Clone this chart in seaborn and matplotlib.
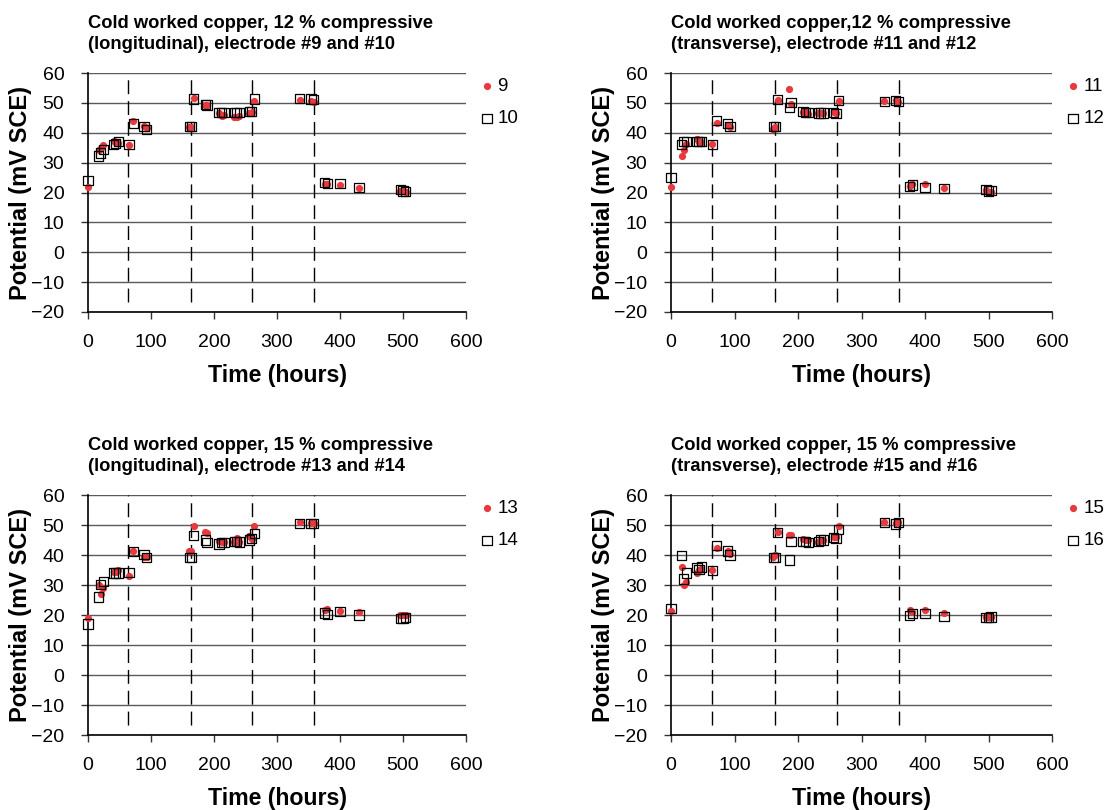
import numpy as np
import pandas as pd
import matplotlib
matplotlib.use("Agg")
import matplotlib.pyplot as plt
import seaborn as sns

# ---------------- data ----------------
time_h = [0, 17, 20, 24, 41, 44, 48, 65, 72, 89, 93, 161, 164, 168, 186, 189,
          208, 212, 216, 232, 236, 240, 256, 260, 264, 336, 354, 358, 376, 380,
          400, 430, 496, 500, 504]

e9 = [22, 34.1, 34.8, 36, 37.2, 36.5, 36.5, 36, 44.1, 42.2, 41.5, 42, 42, 51.5, 49.4, 49.3,
      46.5, 45.7, 46, 45.3, 45.3, 45.5, 46.6, 47, 50.6, 50.8, 50.5, 50.2, 23, 22.7,
      22.6, 21.4, 20.6, 20.5, 20.3]
e10 = [24.1, 32.2, 33.2, 34.3, 36, 36.3, 37.2, 36, 43.2, 42, 41.2, 42, 42, 51.3, 49.4, 49.3,
       46.8, 46.8, 46.8, 46.8, 46.8, 46.9, 47.1, 47, 51.3, 51.5, 51.3, 51, 23.4, 23.1,
       23.1, 21.6, 20.9, 20.5, 20.3]

e11 = [22, 32.1, 34.1, 36.1, 38, 37, 37, 36.1, 43.2, 42.5, 42, 41.2, 42, 51.1, 54.7, 49.6,
       47, 47, 46.3, 46.5, 46.5, 46.5, 47, 46.7, 50.5, 50.5, 50.8, 50.3, 22.2, 22.9,
       22.9, 21.4, 20.7, 20.3, 20.3]
e12 = [25.1, 36.1, 37.2, 37.2, 37.2, 37.2, 37.2, 36.1, 44.2, 43.2, 42.2, 42.1, 42.1, 51.1, 48.5, 50.2,
       47.2, 46.9, 46.7, 46.6, 46.6, 46.6, 46.9, 46.5, 50.7, 50.5, 50.8, 50.4, 22, 22.5,
       21.8, 21.3, 20.9, 20.5, 20.6]

e13 = [19.1, 30.1, 27.1, 29, 34.2, 34.2, 34.9, 32.9, 41.3, 39.5, 39.5, 41.2, 41.2, 49.6, 47.6, 47.4,
       44.6, 44.4, 44.2, 44.5, 45.8, 44.5, 46.3, 45.5, 49.7, 51, 50.6, 50.6, 21.6, 22.1,
       21.2, 20.9, 20, 20, 20]
e14 = [17, 26, 30.1, 31.1, 34, 34, 34, 34.2, 41.1, 40.2, 39.1, 39.1, 39.1, 46.5, 45, 44.2,
       43.7, 44.1, 44.1, 44.5, 44.4, 44.3, 45, 45.4, 47.2, 50.5, 50.5, 50.5, 20.7, 20.2,
       21.2, 20, 18.8, 18.8, 19.1]

e15 = [21.2, 36, 30.1, 31, 34, 35, 35.2, 34.9, 42.2, 41.3, 40.5, 39.2, 39.9, 47.7, 46.6, 46.6,
       45.5, 45, 45, 44.4, 45, 45, 46, 46, 49.6, 50.9, 50.7, 51, 21.6, 21,
       21.8, 20.7, 19.2, 19.2, 19.2]
e16 = [22.1, 39.9, 32, 34, 35.8, 35.2, 36, 34.9, 43.2, 41.3, 40, 39.1, 39.1, 47.5, 38.3, 44.4,
       44.4, 44.4, 44.2, 44.4, 45, 45, 45.8, 45.5, 48.6, 50.9, 50.3, 50.8, 19.9, 20.6,
       20.6, 19.6, 19.1, 19.1, 19.3]

titles = [
    "Cold worked copper, 12 % compressive\n(longitudinal), electrode #9 and #10",
    "Cold worked copper,12 % compressive\n(transverse), electrode #11 and #12",
    "Cold worked copper, 15 % compressive\n(longitudinal), electrode #13 and #14",
    "Cold worked copper, 15 % compressive\n(transverse), electrode #15 and #16",
]
pairs = [(e9, e10, "9", "10"), (e11, e12, "11", "12"),
         (e13, e14, "13", "14"), (e15, e16, "15", "16")]
marker_lines = [64, 164, 261, 359]
x_ticks = [0, 100, 200, 300, 400, 500, 600]
y_ticks = [-20, -10, 0, 10, 20, 30, 40, 50, 60]

# ---------------- style ----------------
sns.set_style("white")
plt.rcParams['font.family'] = ['Liberation Sans', 'DejaVu Sans']
plt.rcParams.update({"text.color": "black", "axes.labelcolor": "black",
                     "xtick.color": "black", "ytick.color": "black"})

RED = "#E8393E"
W, H = 1106, 810
fig = plt.figure(figsize=(W / 100, H / 100), dpi=100)

# axes boxes in pixels (left, top, right, bottom)
boxes = [(88, 73, 466, 312), (671, 73, 1052, 312),
         (88, 495, 466, 735), (671, 495, 1052, 735)]

for box, title, (ya, yb, la, lb) in zip(boxes, titles, pairs):
    l, t, r, b = box
    aw, ah = r - l, b - t
    ax = fig.add_axes([l / W, (H - b) / H, aw / W, ah / H])
    df = pd.DataFrame({"t": time_h, "a": ya, "b": yb})

    for y in y_ticks:
        ax.axhline(y, color="#5a5a5a", lw=1.0, zorder=0.5)
    for xv in marker_lines:
        ax.axvline(xv, ymin=0.04, ymax=1.0, color="black", lw=1.0,
                   linestyle=(0, (10, 5)), zorder=0.6)

    sns.scatterplot(data=df, x="t", y="a", ax=ax, marker="o", s=27,
                    color=RED, edgecolor=RED, linewidth=0, label=la, zorder=3)
    sns.scatterplot(data=df, x="t", y="b", ax=ax, marker="s", s=44,
                    color="black", linewidth=0.9, label=lb, zorder=4)
    coll = ax.collections[-1]
    coll.set_facecolor("none")
    coll.set_edgecolor("black")
    for c in ax.collections:
        c.set_clip_on(False)

    ax.set_xlim(0, 600)
    ax.set_ylim(-20, 60)
    ax.set_xticks(x_ticks)
    ax.set_yticks(y_ticks)
    ax.tick_params(axis="both", direction="out", length=5, width=1,
                   color="#333333", labelsize=14, left=True, bottom=True)
    ax.tick_params(axis="x", pad=11)
    ax.tick_params(axis="y", pad=12)
    for s in ["top", "right"]:
        ax.spines[s].set_visible(False)
    for s in ["left", "bottom"]:
        ax.spines[s].set_color("black")
        ax.spines[s].set_linewidth(1.2)
    ax.set_xlabel("Time (hours)", fontsize=16.7, fontweight="bold")
    ax.set_ylabel("Potential (mV SCE)", fontsize=17, fontweight="bold")
    ax.xaxis.set_label_coords(0.5, -52 / ah)
    ax.yaxis.set_label_coords(-56 / aw, 0.5)
    ax.set_title(title, loc="left", fontsize=13.2, fontweight="bold", pad=17,
                 linespacing=1.32)
    ax.legend(loc="upper left", bbox_to_anchor=(1.016, 1.01), frameon=False,
              fontsize=13.5, handletextpad=0.15, labelspacing=0.8,
              borderaxespad=0.0, handlelength=0.8)

fig.savefig("out.png", dpi=100)
